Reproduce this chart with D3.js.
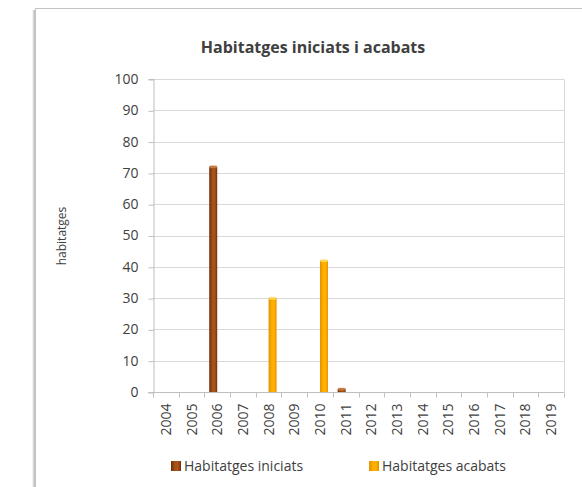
<!DOCTYPE html>
<html>
<head>
<meta charset="utf-8">
<script src="https://cdn.jsdelivr.net/npm/d3@7"></script>
<style>
  body { margin: 0; background: #fff; }
  text { font-family: "Open Sans", "Liberation Sans", Arial, sans-serif; fill: #404040; }
</style>
</head>
<body>
<svg id="chart" width="582" height="487"></svg>
<script>
// data
const years = ['2004','2005','2006','2007','2008','2009','2010','2011','2012','2013','2014','2015','2016','2017','2018','2019'];
const iniciats = [0, 0, 72, 0, 0, 0, 0, 1, 0, 0, 0, 0, 0, 0, 0, 0];
const acabats  = [0, 0, 0, 0, 30, 0, 42, 0, 0, 0, 0, 0, 0, 0, 0, 0];
const yTicks = [0, 10, 20, 30, 40, 50, 60, 70, 80, 90, 100];
const seriesNames = ['Habitatges iniciats', 'Habitatges acabats'];

var colors = {
  brown: { dark: '#6e3008', mid: '#a9521a', top: '#c77a3e' },
  orange: { dark: '#e39200', mid: '#ffb000', top: '#ffd75a' }
};

var margin = { left: 153, right: 18, top: 79, bottom: 95 };
var width = 582, height = 487;

var svg = d3.select('#chart');
var defs = svg.append('defs');

// cylinder-ish gradients for the bars
function addGrad(id, c){
  var g = defs.append('linearGradient').attr('id', id)
    .attr('x1', '0%').attr('x2', '100%').attr('y1', '0%').attr('y2', '0%');
  g.append('stop').attr('offset', '0%').attr('stop-color', c.dark);
  g.append('stop').attr('offset', '45%').attr('stop-color', c.mid);
  g.append('stop').attr('offset', '70%').attr('stop-color', c.mid);
  g.append('stop').attr('offset', '100%').attr('stop-color', c.dark);
}
addGrad('gradBrown', colors.brown);
addGrad('gradOrange', colors.orange);

var sh = defs.append('linearGradient').attr('id', 'frameShadow')
  .attr('x1', '0%').attr('x2', '100%');
sh.append('stop').attr('offset', '0%').attr('stop-color', '#ffffff');
sh.append('stop').attr('offset', '100%').attr('stop-color', '#9a9a9a');

// outer chart frame (runs off the right/bottom edge)
svg.append('rect')
  .attr('x', 32).attr('y', 10).attr('width', 4).attr('height', 500)
  .attr('fill', 'url(#frameShadow)');
svg.append('rect')
  .attr('x', 35.5).attr('y', 8.5).attr('width', 600).attr('height', 600)
  .attr('fill', 'none').attr('stroke', '#c4c4c4');

var x = d3.scaleBand().domain(years)
  .range([margin.left, width - margin.right]).padding(0);
var y = d3.scaleLinear().domain([0, 100])
  .range([height - margin.bottom, margin.top]);

// gridlines
svg.append('g')
  .selectAll('line').data(yTicks.slice(1)).enter().append('line')
  .attr('x1', margin.left).attr('x2', width - margin.right)
  .attr('y1', function(d){ return Math.round(y(d)) + 0.5; })
  .attr('y2', function(d){ return Math.round(y(d)) + 0.5; })
  .attr('stroke', '#d9d9d9');
// right border of the plot area
svg.append('line')
  .attr('x1', width - margin.right + 0.5).attr('x2', width - margin.right + 0.5)
  .attr('y1', Math.round(y(100)) + 0.5).attr('y2', y(0))
  .attr('stroke', '#d9d9d9');

// y axis
var yAxis = svg.append('g')
  .attr('transform', 'translate(' + (margin.left + 0.5) + ',0)')
  .call(d3.axisLeft(y).tickValues(yTicks).tickSize(5).tickPadding(10));
yAxis.select('.domain').attr('stroke', '#bfbfbf');
yAxis.selectAll('.tick line').attr('stroke', '#bfbfbf')
  .attr('transform', 'translate(0,0.5)');
yAxis.selectAll('text').style('font-size', '14px')
  .style('font-family', '"Open Sans", sans-serif').attr('fill', '#404040');

// x axis, ticks between categories
var xAxisG = svg.append('g')
  .attr('transform', 'translate(0,' + (Math.round(y(0)) + 0.5) + ')');
xAxisG.append('line')
  .attr('x1', margin.left - 5).attr('x2', width - margin.right)
  .attr('stroke', '#bfbfbf');
xAxisG.selectAll('line.tk').data(d3.range(years.length + 1)).enter().append('line')
  .attr('class', 'tk')
  .attr('x1', function(i){ return Math.round(margin.left + i * x.bandwidth()) + 0.5; })
  .attr('x2', function(i){ return Math.round(margin.left + i * x.bandwidth()) + 0.5; })
  .attr('y1', 0).attr('y2', 5)
  .attr('stroke', '#bfbfbf');
xAxisG.selectAll('text').data(years).enter().append('text')
  .attr('transform', function(d){
    return 'translate(' + (x(d) + x.bandwidth() / 2 + 5) + ',11) rotate(-90)';
  })
  .attr('text-anchor', 'end')
  .style('font-size', '14px')
  .text(function(d){ return d; });

// bars
var bw = 8;
function drawSeries(vals, grad, c, offset){
  var g = svg.append('g');
  years.forEach(function(yr, i){
    var v = vals[i];
    if(!v) return;
    var cx = x(yr) + x.bandwidth() / 2 + offset;
    g.append('rect')
      .attr('x', cx).attr('width', bw)
      .attr('y', y(v)).attr('height', y(0) - y(v))
      .attr('fill', 'url(#' + grad + ')');
    g.append('rect')
      .attr('x', cx + 0.5).attr('width', bw - 1)
      .attr('y', y(v) - 1).attr('height', 2.5)
      .attr('fill', c.top);
  });
}
drawSeries(iniciats, 'gradBrown', colors.brown, -bw);
drawSeries(acabats, 'gradOrange', colors.orange, 0);

// title
svg.append('text')
  .attr('x', 313).attr('y', 53)
  .attr('text-anchor', 'middle')
  .style('font-size', '16px').style('font-weight', 'bold')
  .text('Habitatges iniciats i acabats');

// y axis title
svg.append('text')
  .attr('transform', 'translate(66,236) rotate(-90)')
  .attr('text-anchor', 'middle')
  .style('font-size', '12px')
  .text('habitatges');

// legend
var legendX = [171, 369];
var legendGrads = ['gradBrown', 'gradOrange'];
var legend = svg.append('g');
seriesNames.forEach(function(name, i){
  legend.append('rect')
    .attr('x', legendX[i]).attr('y', 461).attr('width', 10).attr('height', 10)
    .attr('fill', 'url(#' + legendGrads[i] + ')');
  legend.append('text')
    .attr('x', legendX[i] + 13).attr('y', 471)
    .style('font-size', '14px')
    .text(name);
});
</script>
</body>
</html>
